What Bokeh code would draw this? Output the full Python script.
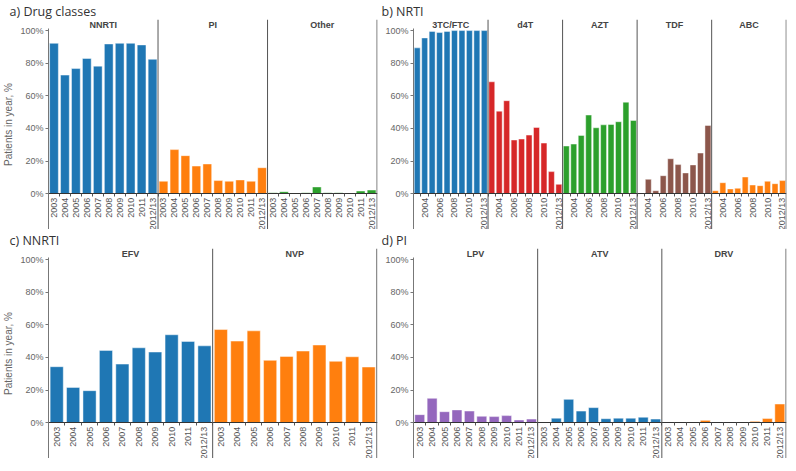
import math
from bokeh.plotting import figure
from bokeh.layouts import column, row
from bokeh.models import Range1d, LinearAxis, FixedTicker, Span, PrintfTickFormatter, ColumnDataSource
from bokeh.core.properties import value
from bokeh.embed import file_html
from bokeh.resources import INLINE

years = ["2003", "2004", "2005", "2006", "2007", "2008", "2009", "2010", "2011", "2012/13"]

# a) Drug classes
a_facets = ["NNRTI", "PI", "Other"]
a_nnrti = [92.2, 72.7, 76.7, 82.9, 78.2, 91.8, 92.2, 92.2, 91.2, 82.4]
a_pi = [7.6, 27.0, 23.3, 16.9, 18.2, 8.0, 7.6, 8.4, 7.6, 15.9]
a_other = [0.6, 1.2, 0.3, 0.6, 4.1, 0.6, 0.6, 0.1, 1.6, 2.2]

# b) NRTI
b_facets = ["3TC/FTC", "d4T", "AZT", "TDF", "ABC"]
b_3tc = [89.4, 95.5, 99.5, 98.8, 99.5, 100.0, 100.0, 100.0, 100.0, 100.0]
b_d4t = [68.6, 50.6, 57.0, 32.9, 33.5, 35.9, 40.6, 31.0, 13.5, 5.7]
b_azt = [29.2, 30.4, 35.7, 48.2, 40.4, 42.2, 42.4, 44.1, 56.1, 44.9]
b_tdf = [0.4, 8.8, 1.8, 11.0, 21.4, 17.8, 12.7, 17.6, 24.9, 41.8]
b_abc = [1.8, 6.7, 2.9, 3.3, 10.2, 5.3, 4.9, 7.6, 6.1, 8.0]

# c) NNRTI
c_facets = ["EFV", "NVP"]
c_efv = [34.3, 21.6, 19.6, 44.3, 35.9, 45.9, 43.3, 53.9, 49.8, 47.1]
c_nvp = [57.1, 50.0, 56.3, 38.2, 40.6, 43.9, 47.6, 37.6, 40.4, 34.1]

# d) PI
d_facets = ["LPV", "ATV", "DRV"]
d_lpv = [4.9, 14.9, 6.7, 7.8, 7.1, 3.9, 3.7, 4.3, 1.6, 2.2]
d_atv = [0.2, 2.7, 14.3, 7.1, 9.2, 2.4, 2.7, 2.7, 3.3, 2.2]
d_drv = [0.0, 0.0, 0.0, 1.4, 0.1, 0.0, 0.4, 0.8, 2.5, 11.4]

y_ticks = [0, 20, 40, 60, 80, 100]

BLUE, ORANGE, GREEN, RED, BROWN, PURPLE = "#1f77b4", "#ff7f0e", "#2ca02c", "#d62728", "#8c564b", "#9467bd"

Y0, Y1 = -22.0, 106.8
FONT = "Liberation Sans"


def panel(title, facets, series, colors, frame_w, frame_h, border_left, border_right, ylabel, label_step):
    nf, ny = len(facets), len(years)
    p = figure(frame_width=frame_w, frame_height=frame_h,
               x_range=Range1d(-0.5, nf * ny - 0.5 + 0.04), y_range=Range1d(Y0, Y1),
               output_backend="svg", toolbar_location=None, x_axis_location=None,
               min_border_left=border_left, min_border_right=border_right,
               min_border_top=0, min_border_bottom=0, title=title)
    p.outline_line_color = None
    p.xgrid.visible = False
    p.ygrid.visible = False
    p.background_fill_color = "white"
    p.border_fill_color = "white"

    p.title.text_font = "Open Sans"
    p.title.text_font_size = "12.5px"
    p.title.text_font_style = "normal"
    p.title.text_color = "#333333"
    p.title.align = "left"
    p.title.offset = -border_left + 1
    p.title.standoff = 0

    xs, tops, cols = [], [], []
    for f, (vals, c) in enumerate(zip(series, colors)):
        for i, v in enumerate(vals):
            xs.append(f * ny + i)
            tops.append(v)
            cols.append(c)
    src = ColumnDataSource(dict(x=xs, top=tops, color=cols))
    p.vbar(x="x", top="top", bottom=0, width=0.8, fill_color="color",
           line_color="white", line_alpha=0.45, line_width=1, source=src)

    for f in range(1, nf + 1):
        p.add_layout(Span(location=f * ny - 0.5, dimension="height",
                          line_color="#555555", line_width=1))

    p.text(x=[f * ny + (ny - 1) / 2 for f in range(nf)], y=[Y1 - 3.5] * nf, text=facets,
           text_font=value(FONT), text_font_size="9px", text_font_style="bold",
           text_color="#444444", text_align="center", text_baseline="middle")

    # y axis
    ya = p.yaxis[0]
    ya.ticker = FixedTicker(ticks=y_ticks)
    ya.formatter = PrintfTickFormatter(format="%d%%")
    ya.bounds = (Y0, 101)
    ya.axis_line_color = "#777777"
    ya.axis_line_width = 1
    ya.major_tick_line_color = "#777777"
    ya.major_tick_out = 3
    ya.major_tick_in = 0
    ya.minor_tick_out = 0
    ya.minor_tick_in = 0
    ya.major_label_text_font = FONT
    ya.major_label_text_font_size = "9px"
    ya.major_label_text_color = "#666666"
    ya.major_label_standoff = 2
    if ylabel:
        ya.axis_label = ylabel
        ya.axis_label_text_font = FONT
        ya.axis_label_text_font_size = "10px"
        ya.axis_label_text_font_style = "normal"
        ya.axis_label_text_color = "#666666"
        ya.axis_label_standoff = 3

    # x axis at y = 0
    centers = [f * ny + i for f in range(nf) for i in range(ny) if (i + 1) % label_step == 0 or label_step == 1]
    overrides = {f * ny + i: years[i] for f in range(nf) for i in range(ny)}
    minor = [k - 0.5 for k in range(1, nf * ny)]
    xa = LinearAxis(fixed_location=0,
                    ticker=FixedTicker(ticks=centers, minor_ticks=minor),
                    major_label_overrides={c: overrides[c] for c in centers},
                    major_label_orientation=math.pi / 2)
    xa.axis_line_color = "#333333"
    xa.major_tick_out = 0
    xa.major_tick_in = 0
    xa.minor_tick_out = 3
    xa.minor_tick_in = 0
    xa.minor_tick_line_color = "#555555"
    xa.major_label_text_font = FONT
    xa.major_label_text_font_size = "9px"
    xa.major_label_text_color = "#555555"
    xa.major_label_standoff = 1
    p.add_layout(xa, "below")
    return p


LFW, RFW = 329, 373
TFH, BFH = 210, 210

pa = panel("a) Drug classes", a_facets, [a_nnrti, a_pi, a_other], [BLUE, ORANGE, GREEN],
           LFW, TFH, 40, 3, "Patients in year, %", 1)
pb = panel("b) NRTI", b_facets, [b_3tc, b_d4t, b_azt, b_tdf, b_abc], [BLUE, RED, GREEN, BROWN, ORANGE],
           RFW, TFH, 33, 2, None, 2)
pc = panel("c) NNRTI", c_facets, [c_efv, c_nvp], [BLUE, ORANGE],
           LFW, BFH, 40, 3, "Patients in year, %", 1)
pd = panel("d) PI", d_facets, [d_lpv, d_atv, d_drv], [PURPLE, BLUE, ORANGE],
           RFW, BFH, 33, 2, None, 1)

layout = column(row(pa, pb), row(pc, pd))
open("out.html", "w").write(file_html(layout, INLINE))
